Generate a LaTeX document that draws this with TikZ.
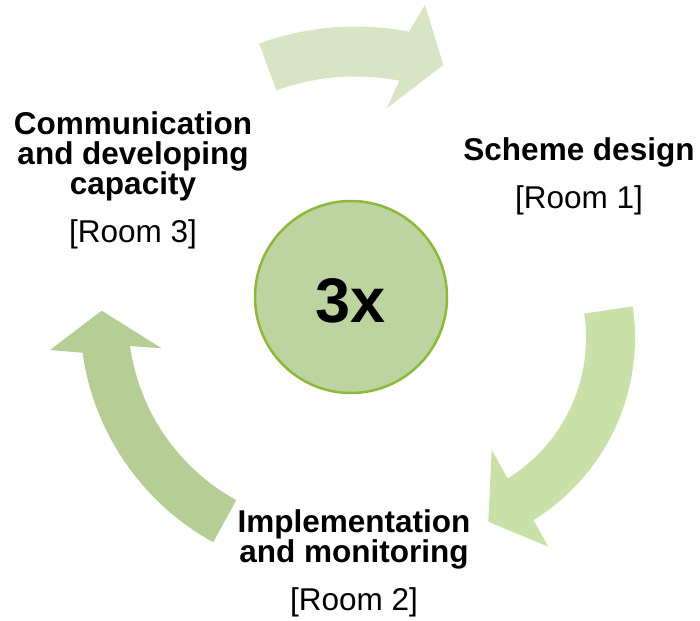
\documentclass[tikz,border=0pt]{standalone}
\usepackage{fontspec}
\setmainfont{Liberation Sans}
\definecolor{arrowtop}{RGB}{216,228,196}
\definecolor{arrowright}{RGB}{201,224,169}
\definecolor{arrowleft}{RGB}{182,206,150}
\definecolor{hubfill}{RGB}{189,212,160}
\definecolor{hubline}{RGB}{141,184,60}
\begin{document}
\begin{tikzpicture}[x=1pt,y=-1pt,
    stage/.style={align=center,inner sep=0pt,anchor=base,
      font=\fontsize{31.5}{30}\selectfont\bfseries},
    room/.style={inner sep=0pt,anchor=base,font=\fontsize{31.5}{30}\selectfont}]
            \useasboundingbox (0,0) rectangle (700,620);
            % centres of the three arcs
            \coordinate (ctop) at (355.3,307.5);
            \coordinate (cright) at (421,338);
            \coordinate (cleft) at (337,317);

            % Arrow from Room 3 to Room 1
            \fill[arrowtop] ([shift={(ctop)}]-110:281) arc[start angle=-110,end angle=-79,radius=281]
              -- (425,5) -- (443.3,65) -- (386.7,108.3)
              -- ([shift={(ctop)}]-79:231) arc[start angle=-79,end angle=-110,radius=231] -- cycle;

            % Arrow from Room 1 to Room 2
            \fill[arrowright] ([shift={(cright)}]-8.5:214) arc[start angle=-8.5,end angle=58.3,radius=214]
              -- (548.3,546.7) -- (488.3,521.7) -- (491.7,450)
              -- ([shift={(cright)}]58.3:165) arc[start angle=58.3,end angle=-8.5,radius=165] -- cycle;

            % Arrow from Room 2 to Room 3
            \fill[arrowleft] ([shift={(cleft)}]118.8:257) arc[start angle=118.8,end angle=172,radius=257]
              -- (50,350) -- (101.7,310.7) -- (161.7,348.3)
              -- ([shift={(cleft)}]172:209) arc[start angle=172,end angle=118.8,radius=209] -- cycle;

            % Hub circle
            \node[circle,fill=hubfill,draw=hubline,line width=2.5pt,minimum size=192pt] (hub) at (351,297) {};
            \node[anchor=base,font=\fontsize{63}{63}\selectfont\bfseries] (times) at (351,322) {3x};

            % Stages (base = last line)
            \node[stage] (design) at (579,161) {Scheme design};
            \node[room] (room1) at (579,208) {[Room 1]};

            \node[stage] (implement) at (354,562) {Implementation\\and monitoring};
            \node[room] (room2) at (354,610) {[Room 2]};

            \node[stage] (communicate) at (133,195) {Communication\\and developing\\capacity};
            \node[room] (room3) at (133,242) {[Room 3]};
\end{tikzpicture}
\end{document}
